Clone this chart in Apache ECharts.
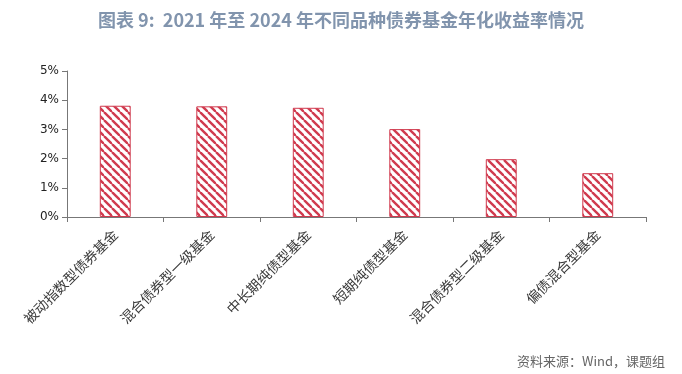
<!DOCTYPE html>
<html><head><meta charset="utf-8">
<script src="https://cdn.jsdelivr.net/npm/echarts@6/dist/echarts.min.js"></script>
<style>html,body{margin:0;padding:0;background:#fff}#c{width:682px;height:374px}</style>
</head><body><div id="c"></div>
<script>
const categories = ['被动指数型债券基金','混合债券型一级基金','中长期纯债型基金','短期纯债型基金','混合债券型二级基金','偏债混合型基金'];
const values = [3.81, 3.79, 3.74, 3.01, 1.98, 1.50];
const yTicks = [0, 1, 2, 3, 4, 5];

function hatch() {
  const n = 8;
  const c = document.createElement('canvas');
  c.width = n; c.height = n;
  const g = c.getContext('2d');
  g.fillStyle = '#fff'; g.fillRect(0,0,n,n);
  g.strokeStyle = '#d03a4e'; g.lineWidth = 2.4;
  for (let k = -2*n; k <= 2*n; k += n) {
    g.beginPath(); g.moveTo(k, 0); g.lineTo(k + n, n); g.stroke();
  }
  return c;
}
const chart = echarts.init(document.getElementById('c'), null, {renderer:'canvas'});
chart.setOption({
  animation:false,
  title:[{text:'图表 9:  2021 年至 2024 年不同品种债券基金年化收益率情况', left:'center', top:6,
    textStyle:{fontFamily:'Noto Sans CJK SC', fontSize:18, fontWeight:'bold', color:'#8194ad'}},
    {text:'资料来源：Wind，课题组', right:12, top:350,
    textStyle:{fontFamily:'Noto Sans CJK SC', fontSize:13, fontWeight:'normal', color:'#666'}}],
  grid:{left:67, right:36, top:71, bottom:157},
  xAxis:{type:'category', data:categories,
    axisLine:{lineStyle:{color:'#777'}},
    axisTick:{show:true, alignWithLabel:false, length:5, lineStyle:{color:'#777'}},
    axisLabel:{rotate:45, interval:0, fontFamily:'Noto Sans CJK SC', fontSize:14, color:'#3a3a3a', margin:15}},
  yAxis:{type:'value', min:0, max:5, interval:1,
    axisLine:{show:true, lineStyle:{color:'#777'}},
    axisTick:{show:true, length:5, lineStyle:{color:'#777'}},
    splitLine:{show:false},
    axisLabel:{formatter:v=>v+'%', fontFamily:'DejaVu Sans', fontSize:12, color:'#222', margin:8}},
  series:[{type:'bar', data:values, barWidth:'32%',
    itemStyle:{color:{image:hatch(), repeat:'repeat'}, borderColor:'#d03a4e', borderWidth:1}}]
});
</script></body></html>
